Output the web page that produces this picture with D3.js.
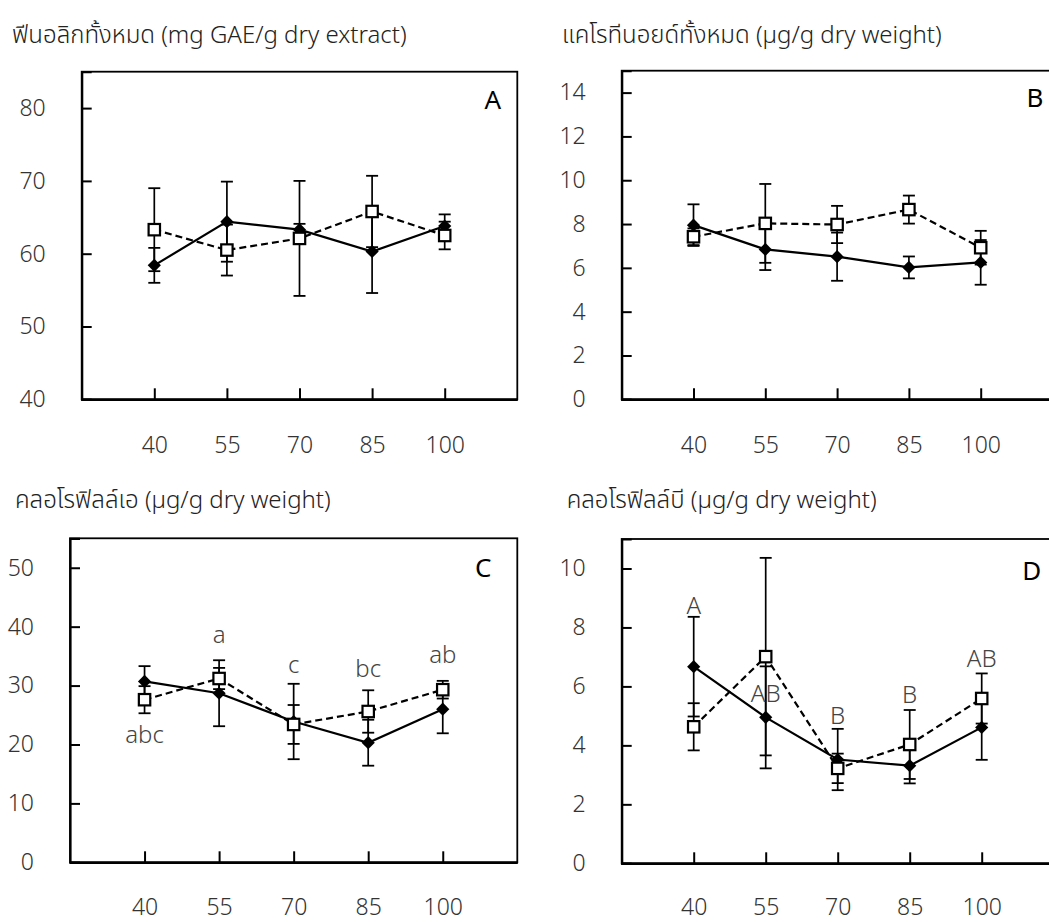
<!DOCTYPE html>
<html>
<head>
<meta charset="utf-8">
<script src="https://cdn.jsdelivr.net/npm/d3@7/dist/d3.min.js"></script>
<style>
  html, body { margin: 0; padding: 0; background: #fff; }
  svg { display: block; }
  text { font-family: "Noto Sans", "Noto Sans Thai", "Open Sans", sans-serif; }
  .thin { font-weight: 300; }
</style>
</head>
<body>
<svg id="chart" width="1049" height="922"></svg>
<script>
// Drying temperatures (°C)
const categories = ["40", "55", "70", "85", "100"];

// A: total phenolics (mg GAE/g dry extract)
const phenolSolid = [58.4, 64.4, 63.3, 60.3, 63.8];
const phenolSolidErr = [2.4, 5.5, 0.8, 5.7, 1.6];
const phenolDashed = [63.3, 60.5, 62.1, 65.8, 62.5];
const phenolDashedErr = [5.7, 3.5, 7.9, 4.9, 1.9];
const phenolTicks = [40, 50, 60, 70, 80];

// B: total carotenoids (µg/g dry weight)
const caroSolid = [7.95, 6.84, 6.51, 6.02, 6.25];
const caroSolidErr = [0.95, 0.94, 1.1, 0.5, 1.02];
const caroDashed = [7.42, 8.03, 7.98, 8.66, 6.92];
const caroDashedErr = [0.38, 1.8, 0.85, 0.64, 0.77];
const caroTicks = [0, 2, 4, 6, 8, 10, 12, 14];

// C: chlorophyll a (µg/g dry weight)
const chlaSolid = [30.7, 28.7, 23.9, 20.3, 26.0];
const chlaSolidErr = [2.6, 5.6, 6.4, 3.9, 4.1];
const chlaDashed = [27.6, 31.2, 23.4, 25.6, 29.3];
const chlaDashedErr = [2.3, 1.8, 3.3, 3.6, 1.5];
const chlaTicks = [0, 10, 20, 30, 40, 50];
const chlaLetters = ["abc", "a", "c", "bc", "ab"];
const chlaLetterAt = [20.3, 37.2, 32.1, 31.4, 33.9];

// D: chlorophyll b (µg/g dry weight)
const chlbSolid = [6.67, 4.95, 3.52, 3.31, 4.61];
const chlbSolidErr = [1.69, 1.73, 1.04, 0.6, 1.1];
const chlbDashed = [4.63, 7.01, 3.22, 4.03, 5.59];
const chlbDashedErr = [0.8, 3.35, 0.5, 1.17, 0.85];
const chlbTicks = [0, 2, 4, 6, 8, 10];
const chlbLetters = ["A", "AB", "B", "B", "AB"];
const chlbLetterAt = [8.44, 5.48, 4.72, 5.44, 6.66];

const svg = d3.select("#chart");

const panels = [
  { key: "A", title: "ฟีนอลิกทั้งหมด (mg GAE/g dry extract)", titleX: 12, titleY: 43,
    left: 81.7, right: 517.3, top: 71.7, bottom: 399.3, domain: [40, 85], ticks: phenolTicks,
    solid: phenolSolid, solidErr: phenolSolidErr, dashed: phenolDashed, dashedErr: phenolDashedErr,
    tagX: 492.7, tagY: 98.5, xLabelOffset: 54 },
  { key: "B", title: "แคโรทีนอยด์ทั้งหมด (µg/g dry weight)", titleX: 562, titleY: 43,
    left: 621.7, right: 1052.5, top: 70.7, bottom: 399.3, domain: [0, 15], ticks: caroTicks,
    solid: caroSolid, solidErr: caroSolidErr, dashed: caroDashed, dashedErr: caroDashedErr,
    tagX: 1035, tagY: 97, xLabelOffset: 54 },
  { key: "C", title: "คลอโรฟิลล์เอ (µg/g dry weight)", titleX: 15, titleY: 508,
    left: 70, right: 517.3, top: 538.3, bottom: 862.3, domain: [0, 55], ticks: chlaTicks,
    solid: chlaSolid, solidErr: chlaSolidErr, dashed: chlaDashed, dashedErr: chlaDashedErr,
    letters: chlaLetters, letterAt: chlaLetterAt, tagX: 483.3, tagY: 567, xLabelOffset: 52.5 },
  { key: "D", title: "คลอโรฟิลล์บี (µg/g dry weight)", titleX: 566.7, titleY: 508,
    left: 621.7, right: 1053.7, top: 539, bottom: 863.3, domain: [0, 11], ticks: chlbTicks,
    solid: chlbSolid, solidErr: chlbSolidErr, dashed: chlbDashed, dashedErr: chlbDashedErr,
    letters: chlbLetters, letterAt: chlbLetterAt, tagX: 1031.7, tagY: 570, xLabelOffset: 51.5 }
];

// filled diamond marker, 13 px across
const diamondPath = "M0,-6.6L6.6,0L0,6.6L-6.6,0Z";

panels.forEach(p => {
  const g = svg.append("g");
  const x = d3.scalePoint().domain(categories).range([p.left, p.right]).padding(1);
  const y = d3.scaleLinear().domain(p.domain).range([p.bottom, p.top]);

  // title
  g.append("text").attr("class", "thin").attr("x", p.titleX).attr("y", p.titleY)
    .attr("font-size", 24).attr("fill", "#222").text(p.title);

  // plot frame
  g.append("rect").attr("x", p.left).attr("y", p.top)
    .attr("width", p.right - p.left).attr("height", p.bottom - p.top)
    .attr("fill", "none").attr("stroke", "#000").attr("stroke-width", 1.8);

  // y axis, ticks pointing inward
  const yAxis = g.append("g").attr("transform", `translate(${p.left},0)`)
    .call(d3.axisRight(y).tickValues(p.ticks).tickSize(10).tickFormat(d3.format("d")));
  yAxis.select(".domain").attr("stroke-width", 2.2);
  yAxis.selectAll(".tick line").attr("stroke-width", 2);
  yAxis.selectAll(".tick text").attr("class", "thin").attr("x", -36).attr("text-anchor", "end")
    .attr("font-size", 23).attr("fill", "#333").attr("font-family", null);

  // x axis, ticks pointing up into the plot
  const xAxis = g.append("g").attr("transform", `translate(0,${p.bottom})`)
    .call(d3.axisTop(x).tickSize(11).tickSizeOuter(0));
  xAxis.select(".domain").attr("stroke-width", 2.6);
  xAxis.selectAll(".tick line").attr("stroke-width", 2);
  xAxis.selectAll(".tick text").attr("class", "thin").attr("y", p.xLabelOffset).attr("dy", null)
    .attr("font-size", 23).attr("fill", "#333").attr("font-family", null);

  const series = [
    { vals: p.solid, err: p.solidErr, dash: null },
    { vals: p.dashed, err: p.dashedErr, dash: "7,4" }
  ];

  const line = d3.line().x((d, i) => x(categories[i])).y(d => y(d));

  series.forEach(s => {
    // connecting line
    g.append("path").datum(s.vals).attr("d", line)
      .attr("fill", "none").attr("stroke", "#000").attr("stroke-width", 2.2)
      .attr("stroke-dasharray", s.dash);
    // error bars
    const eb = g.append("g").selectAll("g").data(s.vals).join("g");
    eb.append("line")
      .attr("x1", (d, i) => x(categories[i])).attr("x2", (d, i) => x(categories[i]))
      .attr("y1", (d, i) => y(d + s.err[i])).attr("y2", (d, i) => y(d - s.err[i]))
      .attr("stroke", "#000").attr("stroke-width", 1.7);
    [1, -1].forEach(sign => {
      eb.append("line")
        .attr("x1", (d, i) => x(categories[i]) - 6).attr("x2", (d, i) => x(categories[i]) + 6)
        .attr("y1", (d, i) => y(d + sign * s.err[i])).attr("y2", (d, i) => y(d + sign * s.err[i]))
        .attr("stroke", "#000").attr("stroke-width", 1.8);
    });
  });

  // filled diamonds
  g.append("g").selectAll("path").data(p.solid).join("path")
    .attr("d", diamondPath)
    .attr("transform", (d, i) => `translate(${x(categories[i])},${y(d)})`)
    .attr("fill", "#000");

  // open squares
  g.append("g").selectAll("rect").data(p.dashed).join("rect")
    .attr("x", (d, i) => x(categories[i]) - 5.7).attr("y", d => y(d) - 5.7)
    .attr("width", 11.4).attr("height", 11.4)
    .attr("fill", "#fff").attr("stroke", "#000").attr("stroke-width", 2.2);

  // significance letters
  if (p.letters) {
    g.append("g").selectAll("text").data(p.letters).join("text")
      .attr("class", "thin")
      .attr("x", (d, i) => x(categories[i]))
      .attr("y", (d, i) => y(p.letterAt[i]))
      .attr("text-anchor", "middle").attr("font-size", 24).attr("fill", "#444")
      .text(d => d);
  }

  // panel tag
  g.append("text").attr("x", p.tagX).attr("y", p.tagY)
    .attr("text-anchor", "middle").attr("dominant-baseline", "central")
    .attr("font-size", 26).attr("fill", "#000").text(p.key);
});
</script>
</body>
</html>
